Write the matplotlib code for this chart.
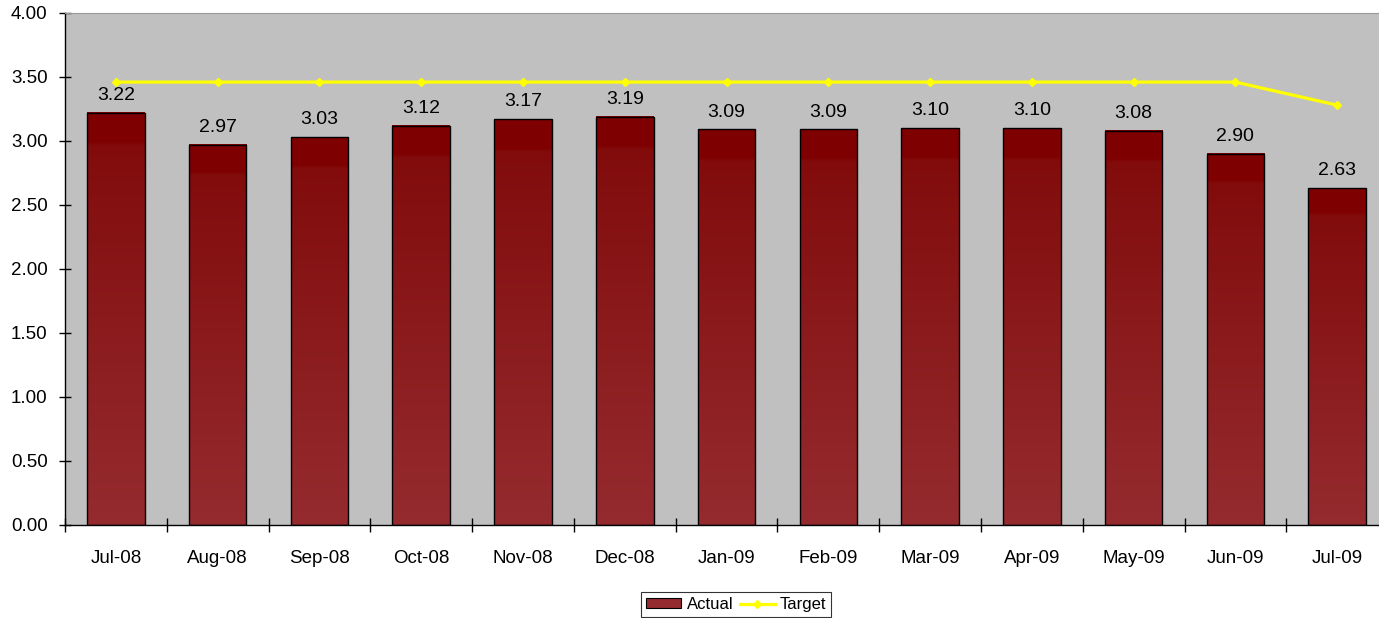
import numpy as np
import matplotlib.pyplot as plt
from matplotlib.patches import Patch
from matplotlib.lines import Line2D
from matplotlib.colors import LinearSegmentedColormap

# === DATA ===
months = ["Jul-08", "Aug-08", "Sep-08", "Oct-08", "Nov-08", "Dec-08", "Jan-09",
          "Feb-09", "Mar-09", "Apr-09", "May-09", "Jun-09", "Jul-09"]
actual = [3.22, 2.97, 3.03, 3.12, 3.17, 3.19, 3.09, 3.09, 3.10, 3.10, 3.08, 2.90, 2.63]
target = [3.46, 3.46, 3.46, 3.46, 3.46, 3.46, 3.46, 3.46, 3.46, 3.46, 3.46, 3.46, 3.28]

plt.rcParams['font.family'] = ['Liberation Sans', 'DejaVu Sans']

fig = plt.figure(figsize=(13.79, 6.18), dpi=100)
ax = fig.add_axes([0.0471, 0.1505, 0.9595, 0.8285])
ax.set_facecolor("#C0C0C0")

x = np.arange(len(months))

# bars first (outline only), gradient fill painted into each bar's rectangle
bars = ax.bar(x, actual, width=0.566, facecolor="none", edgecolor="black",
              linewidth=1.0, zorder=3)

# dark cap at the top, then a soft fade to lighter red at the bottom
grad = LinearSegmentedColormap.from_list(
    "bar", [(0.0, "#952B2F"), (0.92, "#820C0C"), (0.93, "#7F0000"), (1.0, "#7F0000")])
col = np.linspace(0, 1, 256).reshape(-1, 1)
for b in bars:
    x0, w, h = b.get_x(), b.get_width(), b.get_height()
    ax.imshow(col, cmap=grad, origin="lower", aspect="auto",
              extent=(x0, x0 + w, 0, h), zorder=2, interpolation="bilinear")

# value labels
for xi, v in zip(x, actual):
    ax.text(xi, v + 0.07, f"{v:.2f}", ha="center", va="bottom", fontsize=14,
            color="black", zorder=5)

# target line
ax.plot(x, target, color="#FFFF00", linewidth=2.3, marker="D", markersize=4.5,
        zorder=4)

ax.set_xlim(-0.5, len(months) - 0.5)
ax.set_ylim(0, 4.0)
ax.set_yticks(np.arange(0, 4.01, 0.5))
ax.set_yticklabels([f"{t:.2f}" for t in np.arange(0, 4.01, 0.5)], fontsize=13.5)
ax.tick_params(axis="y", direction="inout", length=9, width=1, pad=8)

ax.set_xticks(x)
ax.set_xticklabels(months, fontsize=13.5)
ax.set_xticks(np.arange(-0.5, len(months), 1.0), minor=True)
ax.tick_params(axis="x", which="major", length=0, pad=18)
ax.tick_params(axis="x", which="minor", direction="inout", length=10, width=1)

for s in ["top", "right"]:
    ax.spines[s].set_color("#9A9A9A")
for s in ["left", "bottom"]:
    ax.spines[s].set_color("black")
    ax.spines[s].set_linewidth(1.0)

handles = [Patch(facecolor="#952B2F", edgecolor="black", linewidth=0.8),
           Line2D([], [], color="#FFFF00", linewidth=2.3, marker="D", markersize=4.5)]
leg = fig.legend(handles, ["Actual", "Target"], loc="lower center",
                 bbox_to_anchor=(0.534, 0.0), ncol=2, fontsize=12, frameon=True,
                 fancybox=False, edgecolor="black", handlelength=2.1,
                 handleheight=0.55, handletextpad=0.3, columnspacing=0.4,
                 borderpad=0.3, borderaxespad=0.05)
leg.get_frame().set_linewidth(0.8)

fig.savefig("out.png", dpi=100)
